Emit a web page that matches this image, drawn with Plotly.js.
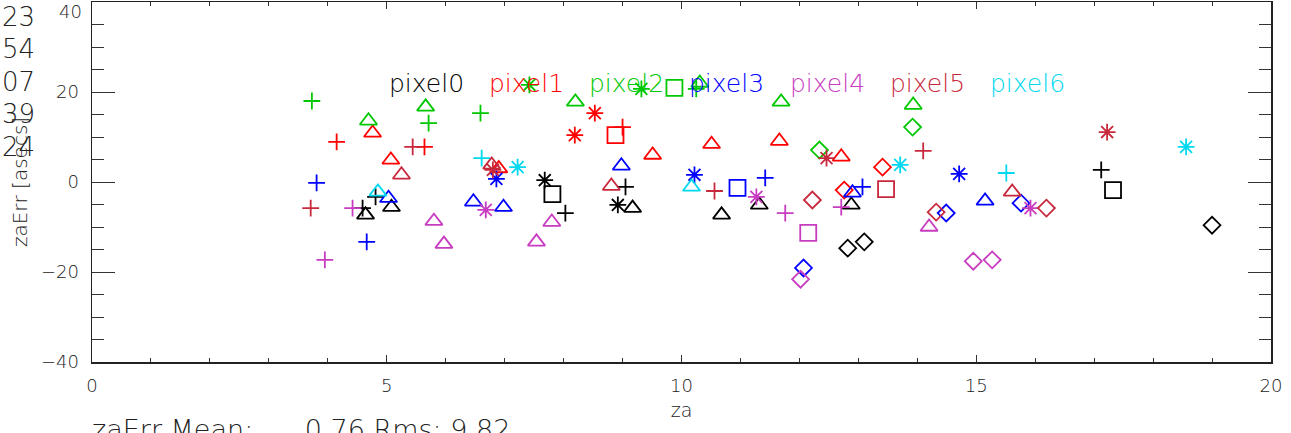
<!DOCTYPE html>
<html>
<head>
<meta charset="utf-8">
<script src="https://cdn.plot.ly/plotly-3.0.1.min.js"></script>
<style>
  html, body { margin: 0; padding: 0; background: #fff; }
  #chart { width: 1291px; height: 433px; }
</style>
</head>
<body>
<div id="chart"></div>
<script>
// ---- datos (za, zaErr, psym de IDL: 1 plus, 2 asterisco, 4 diamante, 5 triangulo, 6 cuadrado)
const pixelNames = ['pixel0', 'pixel1', 'pixel2', 'pixel3', 'pixel4', 'pixel5', 'pixel6'];

const za0 = [4.59, 4.64, 4.81, 5.08, 7.68, 7.81, 8.03, 9.05, 8.92, 9.17, 10.68, 11.32, 12.88, 12.82, 13.10, 17.12, 17.32, 19.00];
const err0 = [-5.8, -7.3, -3.3, -5.6, 0.4, -2.7, -6.9, -1.1, -5.1, -5.8, -7.3, -5.1, -5.1, -14.7, -13.3, 2.7, -1.8, -9.6];
const sym0 = [1, 5, 1, 5, 2, 6, 1, 1, 2, 5, 5, 5, 5, 4, 4, 1, 6, 4];

const za1 = [4.15, 4.76, 5.64, 5.07, 6.90, 8.19, 8.53, 8.88, 9.00, 9.51, 10.51, 11.66, 12.71, 13.41, 12.76];
const err1 = [8.9, 10.9, 7.8, 4.9, 3.0, 10.4, 15.3, 10.4, 12.2, 6.0, 8.4, 9.1, 5.6, 3.3, -1.8];
const sym1 = [1, 5, 1, 5, 5, 2, 2, 6, 1, 5, 5, 5, 5, 4, 4];

const za2 = [3.73, 4.69, 5.66, 5.71, 6.59, 7.42, 8.20, 9.32, 9.88, 10.25, 10.31, 11.69, 12.34, 13.93, 13.92];
const err2 = [18.0, 13.6, 16.7, 13.1, 15.3, 21.6, 17.8, 20.7, 20.9, 20.7, 22.0, 17.8, 7.1, 17.1, 12.2];
const sym2 = [1, 5, 5, 1, 1, 2, 5, 2, 6, 1, 5, 5, 4, 5, 4];

const za3 = [3.81, 4.66, 5.03, 6.47, 6.98, 6.86, 8.98, 10.22, 10.95, 11.42, 12.90, 13.07, 12.07, 14.49, 14.71, 15.15, 15.76];
const err3 = [-0.2, -13.3, -3.6, -4.4, -5.6, 0.7, 3.6, 1.6, -1.3, 0.9, -2.4, -1.1, -19.1, -6.9, 1.8, -4.2, -4.7];
const sym3 = [1, 1, 5, 5, 5, 2, 5, 2, 6, 1, 5, 1, 4, 4, 2, 5, 4];

const za4 = [3.95, 4.42, 5.80, 5.97, 6.68, 7.54, 7.80, 11.27, 11.76, 12.15, 12.02, 12.71, 14.20, 14.95, 15.27, 15.92];
const err4 = [-17.3, -5.8, -8.7, -13.8, -6.2, -13.3, -8.9, -3.3, -6.9, -11.3, -21.6, -5.6, -10.0, -17.6, -17.3, -5.8];
const sym4 = [1, 1, 5, 5, 2, 5, 5, 2, 1, 6, 4, 1, 5, 4, 4, 2];

const za5 = [3.71, 5.44, 5.25, 6.78, 6.80, 8.81, 10.56, 12.46, 12.22, 13.47, 14.10, 14.32, 15.61, 16.19, 17.22];
const err5 = [-5.8, 7.8, 1.6, 3.8, 2.7, -0.9, -2.0, 5.3, -4.0, -1.6, 6.9, -6.7, -2.2, -5.8, 11.1];
const sym5 = [1, 1, 5, 5, 2, 5, 1, 2, 4, 6, 1, 4, 5, 4, 2];

const za6 = [4.85, 6.61, 7.22, 10.17, 13.71, 15.51, 18.56];
const err6 = [-2.2, 5.3, 3.3, -1.1, 3.8, 2.0, 7.8];
const sym6 = [5, 1, 2, 5, 2, 1, 2];

// numeros sueltos a la izquierda y estadisticas de abajo
const sideNumbers = ['23', '54', '07', '39', '24'];
const meanVal = '0.76';
const rmsVal = '9.82';

const xTicks = [0, 5, 10, 15, 20];
const yTicks = [-40, -20, 0, 20, 40];

// ---- estilos
const pixelColors = ['#000000', '#ff0000', '#00c800', '#0000ff', '#c83cc0', '#c8283c', '#00d8f0'];
const symbolMap = {1: 'cross-thin-open', 2: 'asterisk-open', 4: 'diamond-open', 5: 'triangle-up-open', 6: 'square-open'};
const sizeMap = {1: 12, 2: 14, 4: 13, 5: 15, 6: 16};
const FONT = 'DejaVu Sans, sans-serif';
const TXT = '#222';

const allZa = [za0, za1, za2, za3, za4, za5, za6];
const allErr = [err0, err1, err2, err3, err4, err5, err6];
const allSym = [sym0, sym1, sym2, sym3, sym4, sym5, sym6];

const traces = allZa.map((za, i) => ({
  x: za,
  y: allErr[i],
  mode: 'markers',
  type: 'scatter',
  name: pixelNames[i],
  showlegend: false,
  hoverinfo: 'skip',
  marker: {
    symbol: allSym[i].map(s => symbolMap[s]),
    size: allSym[i].map(s => sizeMap[s]),
    color: pixelColors[i],
    opacity: 1,
    line: {color: pixelColors[i], width: 1.8}
  }
}));

const annotations = [];

//etiquetas pixelN dentro del grafico
pixelNames.forEach((nm, i) => {
  annotations.push({
    x: 5.0 + i * 1.7, y: 21.8, xref: 'x', yref: 'y',
    xanchor: 'left', yanchor: 'middle',
    text: nm, showarrow: false,
    font: {family: FONT, size: 25, weight: 200, color: pixelColors[i]}
  });
});

//numeros a la izquierda
sideNumbers.forEach((t, k) => {
  annotations.push({
    x: 0, y: 1, xref: 'paper', yref: 'paper',
    xanchor: 'left', yanchor: 'middle',
    xshift: -92, yshift: -(15 + k * 32.4),
    text: t, showarrow: false,
    font: {family: FONT, size: 26, weight: 200, color: TXT}
  });
});

//etiqueta 40 arriba (en IDL queda corrida hacia abajo)
annotations.push({
  x: 0, y: 1, xref: 'paper', yref: 'paper',
  xanchor: 'right', yanchor: 'middle',
  xshift: -8, yshift: -9,
  text: String(yTicks[yTicks.length - 1]), showarrow: false,
  font: {family: FONT, size: 18, weight: 200, color: TXT}
});

//estadisticas
annotations.push({
  x: 0, y: 0, xref: 'paper', yref: 'paper',
  xanchor: 'left', yanchor: 'top',
  xshift: -2, yshift: -50,
  text: 'zaErr Mean:' + '\u00a0'.repeat(6) + meanVal + '\u00a0' + 'Rms:' + '\u00a0' + rmsVal,
  showarrow: false,
  font: {family: FONT, size: 27, weight: 200, color: TXT}
});

const layout = {
  width: 1291,
  height: 433,
  margin: {l: 92, r: 20, t: 2, b: 71},
  paper_bgcolor: '#fff',
  plot_bgcolor: '#fff',
  font: {family: FONT, color: TXT},
  xaxis: {
    range: [0, 20],
    tickvals: xTicks,
    ticks: 'inside', ticklen: 7, tickwidth: 1, tickcolor: '#333',
    minor: {dtick: 1, ticklen: 4, tickcolor: '#333', ticks: 'inside'},
    showline: true, linecolor: '#222', linewidth: 1.5, mirror: 'ticks',
    showgrid: false, zeroline: false,
    tickfont: {family: FONT, size: 18, weight: 200, color: TXT},
    ticklabelstandoff: 7,
    title: {text: 'za', font: {family: FONT, size: 19, weight: 200, color: TXT}, standoff: 8}
  },
  yaxis: {
    range: [-40, 40],
    tickvals: yTicks,
    ticktext: yTicks.map(v => v === 40 ? '' : (v < 0 ? '\u2212' + Math.abs(v) : String(v))),
    ticks: 'inside', ticklen: 23, tickwidth: 1, tickcolor: '#333',
    minor: {dtick: 5, ticklen: 12, tickcolor: '#333', ticks: 'inside'},
    showline: true, linecolor: '#222', linewidth: 1.5, mirror: 'ticks',
    showgrid: false, zeroline: false,
    tickfont: {family: FONT, size: 18, weight: 200, color: TXT},
    ticklabelstandoff: 8,
    title: {text: 'zaErr [asecs]', font: {family: FONT, size: 20, weight: 200, color: TXT}, standoff: 8}
  },
  annotations: annotations
};

Plotly.newPlot('chart', traces, layout, {displayModeBar: false, staticPlot: true});
</script>
</body>
</html>
